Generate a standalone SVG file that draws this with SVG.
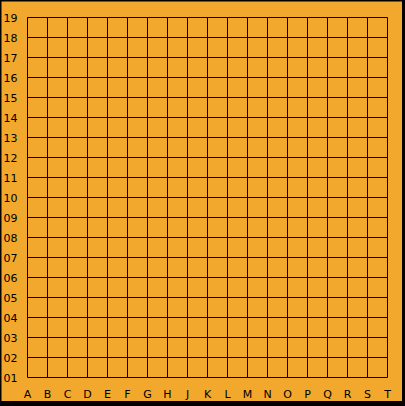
<svg xmlns="http://www.w3.org/2000/svg" width="405" height="406" viewBox="0 0 405 406">
<style>
.lbl{font-family:"DejaVu Sans",sans-serif;font-size:11px;fill:#000;text-anchor:middle}
.grid{stroke:#000;stroke-width:1;fill:none}
</style>
<rect id="frame" x="0" y="0" width="405" height="406" fill="#000"/>
<rect id="board" x="1.5" y="1.5" width="400.5" height="399.5" fill="#F2A82C"/>
<g id="grid" class="grid">
<path d="M27.5 17.5V377.5M47.5 17.5V377.5M67.5 17.5V377.5M87.5 17.5V377.5M107.5 17.5V377.5M127.5 17.5V377.5M147.5 17.5V377.5M167.5 17.5V377.5M187.5 17.5V377.5M207.5 17.5V377.5M227.5 17.5V377.5M247.5 17.5V377.5M267.5 17.5V377.5M287.5 17.5V377.5M307.5 17.5V377.5M327.5 17.5V377.5M347.5 17.5V377.5M367.5 17.5V377.5M387.5 17.5V377.5"/>
<path d="M27.5 17.5H387.5M27.5 37.5H387.5M27.5 57.5H387.5M27.5 77.5H387.5M27.5 97.5H387.5M27.5 117.5H387.5M27.5 137.5H387.5M27.5 157.5H387.5M27.5 177.5H387.5M27.5 197.5H387.5M27.5 217.5H387.5M27.5 237.5H387.5M27.5 257.5H387.5M27.5 277.5H387.5M27.5 297.5H387.5M27.5 317.5H387.5M27.5 337.5H387.5M27.5 357.5H387.5M27.5 377.5H387.5"/>
</g>
<g id="rows" class="lbl">
<text x="10.5" y="22.3">19</text>
<text x="10.5" y="42.3">18</text>
<text x="10.5" y="62.3">17</text>
<text x="10.5" y="82.3">16</text>
<text x="10.5" y="102.3">15</text>
<text x="10.5" y="122.3">14</text>
<text x="10.5" y="142.3">13</text>
<text x="10.5" y="162.3">12</text>
<text x="10.5" y="182.3">11</text>
<text x="10.5" y="202.3">10</text>
<text x="10.5" y="222.3">09</text>
<text x="10.5" y="242.3">08</text>
<text x="10.5" y="262.3">07</text>
<text x="10.5" y="282.3">06</text>
<text x="10.5" y="302.3">05</text>
<text x="10.5" y="322.3">04</text>
<text x="10.5" y="342.3">03</text>
<text x="10.5" y="362.3">02</text>
<text x="10.5" y="382.3">01</text>
</g>
<g id="cols" class="lbl">
<text x="27.5" y="397.5">A</text>
<text x="47.5" y="397.5">B</text>
<text x="67.5" y="397.5">C</text>
<text x="87.5" y="397.5">D</text>
<text x="107.5" y="397.5">E</text>
<text x="127.5" y="397.5">F</text>
<text x="147.5" y="397.5">G</text>
<text x="167.5" y="397.5">H</text>
<text x="187.5" y="397.5">J</text>
<text x="207.5" y="397.5">K</text>
<text x="227.5" y="397.5">L</text>
<text x="247.5" y="397.5">M</text>
<text x="267.5" y="397.5">N</text>
<text x="287.5" y="397.5">O</text>
<text x="307.5" y="397.5">P</text>
<text x="327.5" y="397.5">Q</text>
<text x="347.5" y="397.5">R</text>
<text x="367.5" y="397.5">S</text>
<text x="387.5" y="397.5">T</text>
</g>
</svg>
